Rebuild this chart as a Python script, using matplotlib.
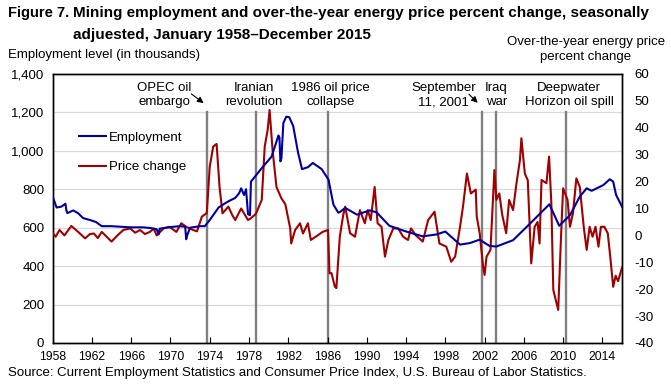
import matplotlib
matplotlib.use("Agg")
import numpy as np
from matplotlib import pyplot as plt

plt.rcParams['font.family'] = ['Liberation Sans Narrow', 'Liberation Sans', 'DejaVu Sans']

# Mining employment, thousands
emp_years = [1958.0, 1958.4, 1958.9, 1959.3, 1959.4, 1959.5, 1960.1, 1960.6, 1961.1, 1961.8,
             1962.4, 1963.0, 1964.0, 1964.6, 1965.9, 1967.2, 1968.0, 1968.6, 1968.8, 1968.9,
             1969.6, 1970.3, 1971.0, 1971.5, 1971.6, 1971.7, 1972.0, 1973.0, 1973.5, 1974.0,
             1974.9, 1975.5, 1976.0, 1976.6, 1977.0, 1977.2, 1977.5, 1977.7, 1977.9, 1978.1,
             1978.2, 1979.3, 1980.3, 1981.0, 1981.1, 1981.2, 1981.3, 1981.5, 1981.8, 1982.1,
             1982.5, 1983.0, 1983.4, 1984.0, 1984.5, 1985.4, 1986.1, 1986.6, 1987.1, 1987.3,
             1987.8, 1989.0, 1990.3, 1991.0, 1992.3, 1993.9, 1995.7, 1997.1, 1998.0, 1999.5,
             2000.5, 2001.5, 2002.5, 2003.2, 2004.9, 2006.6, 2008.6, 2009.6, 2010.7, 2011.7,
             2012.4, 2012.9, 2014.1, 2014.75, 2015.1, 2015.4, 2016.0]
employment = [762, 705, 710, 725, 690, 676, 690, 675, 650, 640,
              630, 608, 608, 606, 602, 602, 598, 592, 565, 595,
              600, 605, 608, 605, 540, 560, 600, 608, 608, 640,
              705, 725, 740, 755, 780, 805, 770, 800, 670, 665,
              840, 910, 970, 1080, 1070, 945, 960, 1145, 1178, 1175,
              1130, 990, 905, 915, 937, 905, 850, 720, 678, 683,
              703, 668, 690, 680, 610, 582, 555, 565, 580, 512,
              520, 538, 505, 502, 535, 620, 722, 610, 665, 762,
              805, 792, 822, 852, 840, 770, 710]

# Over-the-year energy price percent change
price_years = [1958.0, 1958.3, 1958.7, 1959.2, 1959.9, 1960.6, 1961.3, 1961.8, 1962.2, 1962.6,
               1963.0, 1963.5, 1964.0, 1964.6, 1965.2, 1965.9, 1966.4, 1966.9, 1967.4, 1967.9,
               1968.3, 1968.6, 1969.3, 1969.9, 1970.6, 1971.1, 1971.6, 1972.3, 1972.7, 1973.2,
               1973.7, 1974.0, 1974.35, 1974.7, 1975.0, 1975.3, 1975.9, 1976.3, 1976.6, 1977.2,
               1977.9, 1978.2, 1978.7, 1979.3, 1979.6, 1979.9, 1980.1, 1980.4, 1980.8, 1981.3,
               1981.7, 1982.2, 1982.3, 1982.7, 1983.2, 1983.5, 1984.0, 1984.3, 1985.0, 1985.5,
               1986.05, 1986.2, 1986.4, 1986.75, 1986.9, 1987.25, 1987.6, 1987.8, 1988.3, 1988.8,
               1989.3, 1989.8, 1990.1, 1990.4, 1990.8, 1991.1, 1991.5, 1991.85, 1992.2, 1992.7,
               1993.2, 1993.7, 1994.2, 1994.5, 1995.0, 1995.7, 1996.25, 1996.9, 1997.4, 1998.1,
               1998.6, 1999.0, 1999.5, 1999.8, 2000.2, 2000.6, 2001.1, 2001.2, 2001.5, 2001.85,
               2002.0, 2002.2, 2002.6, 2003.0, 2003.2, 2003.5, 2003.8, 2004.2, 2004.5, 2004.9,
               2005.25, 2005.6, 2005.75, 2006.1, 2006.4, 2006.75, 2007.1, 2007.4, 2007.6, 2007.8,
               2008.3, 2008.57, 2008.8, 2009.0, 2009.5, 2009.8, 2010.0, 2010.45, 2010.7, 2011.0,
               2011.35, 2011.7, 2012.1, 2012.4, 2012.7, 2013.0, 2013.3, 2013.6, 2013.85, 2014.2,
               2014.55, 2014.8, 2015.1, 2015.35, 2015.6, 2016.0]
price_change = [1.0, -0.5, 2.0, 0.0, 3.5, 1.3, -1.1, 0.5, 0.7, -1.0,
                1.3, -0.5, -2.3, 0.0, 2.0, 2.6, 1.0, 2.0, 0.5, 1.3,
                2.5, 0.0, 2.6, 3.2, 1.3, 4.5, 3.2, 2.0, 1.5, 7.0,
                8.3, 25.5, 33.0, 34.0, 18.0, 8.2, 10.7, 7.5, 5.7, 10.0,
                5.7, 6.4, 8.0, 13.2, 33.0, 39.2, 46.6, 31.7, 18.0, 13.8,
                11.6, 2.6, -3.0, 2.0, 4.5, 0.7, 4.5, -1.7, 0.0, 1.3,
                2.0, -14.1, -14.0, -19.1, -19.6, -0.5, 7.6, 10.7, 0.8, -0.5,
                9.4, 4.5, 9.4, 5.7, 18.0, 4.5, 3.2, -7.9, -1.7, 2.6,
                2.6, -0.5, -1.7, 2.6, 0.0, -2.3, 5.7, 8.8, -3.0, -4.2,
                -9.8, -7.9, 3.2, 10.7, 23.0, 15.6, 17.0, 7.0, 0.8, -11.6,
                -14.7, -7.9, -5.4, 24.3, 13.2, 15.6, 7.6, 0.8, 13.2, 9.4,
                19.4, 28.0, 36.1, 23.0, 20.5, -10.4, 3.2, 5.0, -3.0, 20.6,
                19.4, 29.3, 11.9, -20.3, -27.7, 0.8, 17.5, 13.2, 3.2, 8.2,
                21.2, 18.0, 3.2, -5.4, 3.2, -0.5, 3.2, -4.2, 3.2, 3.2,
                0.8, -7.9, -19.1, -15.0, -17.0, -12.0]

# Event markers
event_years = [1973.75, 1978.7, 1986.0, 2001.7, 2003.2, 2010.3]
event_labels = ["OPEC oil\nembargo", "Iranian\nrevolution", "1986 oil price\ncollapse",
                "September\n11, 2001", "Iraq\nwar", "Deepwater\nHorizon oil spill"]
label_x = [1969.4, 1978.5, 1986.3, 1997.8, 2003.2, 2010.6]

x_ticks = list(range(1958, 2015, 4))
left_ticks = list(range(0, 1401, 200))
right_ticks = list(range(-40, 61, 10))

blue = '#0000a0'
red = '#a00000'

fig = plt.figure(figsize=(6.71, 3.84), dpi=100)
ax = fig.add_axes([0.0785, 0.1068, 0.8485, 0.7005])
ax2 = ax.twinx()

ax.set_xlim(1958, 2016)
ax.set_ylim(0, 1400)
ax2.set_ylim(-40, 60)

for y in left_ticks[1:-1]:
    ax.axhline(y, color='#d9d9d9', lw=0.9, zorder=0)

for ex in event_years:
    ax.plot([ex, ex], [0, 1200], color='#808080', lw=1.7, zorder=1)

l2, = ax2.plot(price_years, price_change, color=red, lw=1.5, zorder=3)
l1, = ax2.plot(emp_years, [e * 100.0 / 1400 - 40 for e in employment], color=blue, lw=1.5, zorder=4)

ax.set_xticks(x_ticks)
ax.set_xticklabels([str(t) for t in x_ticks], fontsize=8.8)
ax.set_yticks(left_ticks)
ax.set_yticklabels(["{:,}".format(t) for t in left_ticks], fontsize=9.5)
ax2.set_yticks(right_ticks)
ax2.set_yticklabels([str(t) for t in right_ticks], fontsize=9.5)
ax.tick_params(axis='x', direction='in', length=4, pad=5.5)
ax.tick_params(axis='y', length=0, pad=6)
ax2.tick_params(axis='y', length=0, pad=9)
for a in (ax, ax2):
    for s in a.spines.values():
        s.set_linewidth(1.0)
ax.set_zorder(ax2.get_zorder() - 1)
ax2.patch.set_visible(False)

for lx, lab in zip(label_x, event_labels):
    ax.text(lx, 1290, lab, ha='center', va='center', fontsize=9.5, linespacing=1.25)

ax.annotate("", xy=(1973.6, 1240), xytext=(1971.9, 1305),
            arrowprops=dict(arrowstyle='-|>', color='black', lw=0.8, mutation_scale=9))
ax.annotate("", xy=(2001.5, 1240), xytext=(2000.2, 1305),
            arrowprops=dict(arrowstyle='-|>', color='black', lw=0.8, mutation_scale=9))

ax.legend([l1, l2], ["Employment", "Price change"], loc='upper left',
          bbox_to_anchor=(0.025, 0.83), frameon=False, fontsize=9.5,
          handlelength=2.1, handletextpad=0.2, labelspacing=1.3)

fig.text(0.012, 0.955, "Figure 7.", fontsize=10.5, fontweight='bold')
fig.text(0.109, 0.955, "Mining employment and over-the-year energy price percent change, seasonally",
         fontsize=11, fontweight='bold')
fig.text(0.109, 0.898, "adjuested, January 1958\u2013December 2015", fontsize=11, fontweight='bold')
fig.text(0.012, 0.848, "Employment level (in thousands)", fontsize=9.5)
fig.text(0.873, 0.870, "Over-the-year energy price\npercent change", fontsize=9.5,
         ha='center', va='center', linespacing=1.35)
fig.text(0.012, 0.02, "Source: Current Employment Statistics and Consumer Price Index, U.S. Bureau of Labor Statistics.",
         fontsize=9.5)

plt.savefig("out.png", dpi=100)
